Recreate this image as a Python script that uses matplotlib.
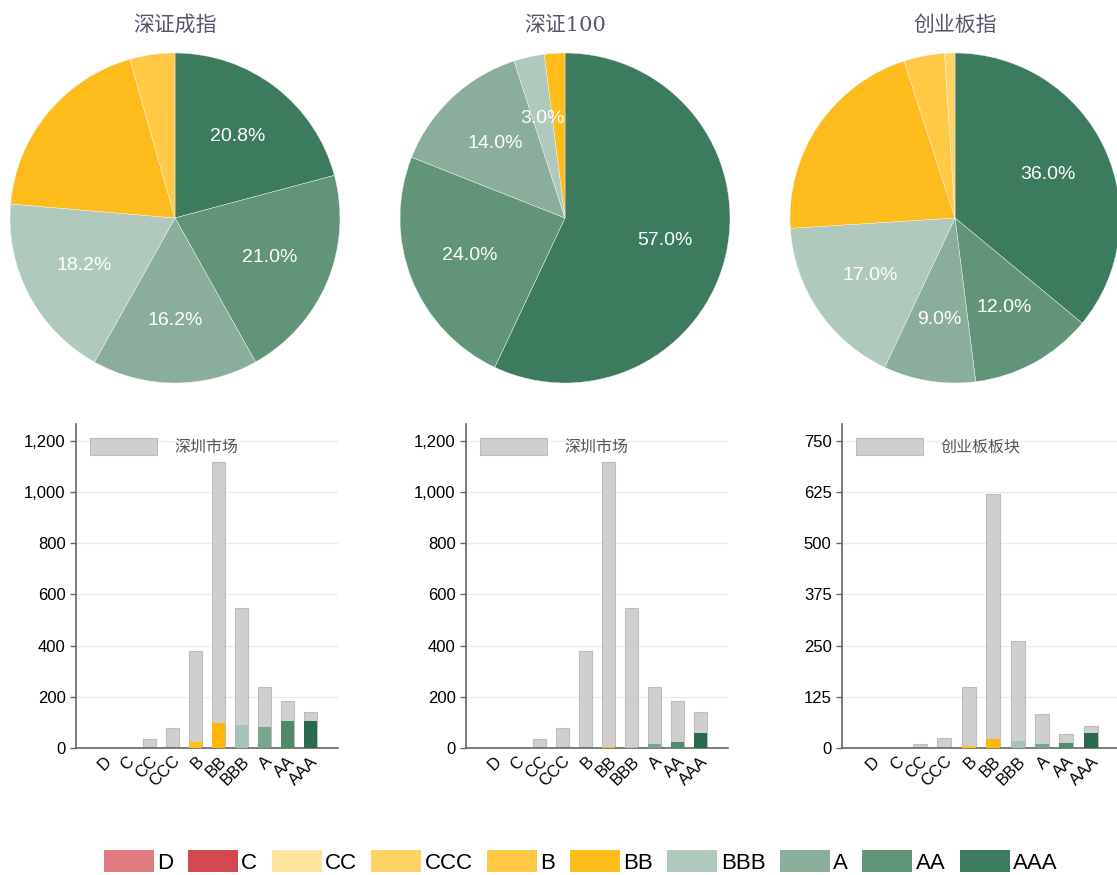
import numpy as np
import matplotlib
matplotlib.use('Agg')
import matplotlib.pyplot as plt
from matplotlib.patches import Patch
from matplotlib.ticker import FuncFormatter

plt.rcParams['font.family'] = ['Liberation Sans', 'Noto Sans CJK SC', 'DejaVu Sans']

# 评级类别
ratings = ['D', 'C', 'CC', 'CCC', 'B', 'BB', 'BBB', 'A', 'AA', 'AAA']

# 指数成分股评级分布（个数）
szcz = [0, 0, 0, 0, 22, 96, 91, 81, 105, 104]      # 深证成指
sz100 = [0, 0, 0, 0, 0, 2, 3, 14, 24, 57]          # 深证100
cybz = [0, 0, 0, 1, 4, 21, 17, 9, 12, 36]          # 创业板指

# 市场整体评级分布
sz_market = [0, 0, 37, 80, 380, 1117, 548, 237, 183, 140]   # 深圳市场
cyb_market = [0, 0, 10, 25, 150, 620, 262, 82, 33, 53]      # 创业板板块

titles = ['深证成指', '深证100', '创业板指']
market_names = ['深圳市场', '深圳市场', '创业板板块']

pie_colors = ['#e07b7f', '#d4494f', '#ffe4a0', '#ffd466', '#ffc845',
              '#fdbc1c', '#b0c9bd', '#8aae9b', '#629479', '#3d7b5e']
bar_colors = ['#e07b7f', '#d4494f', '#ffe08f', '#ffcf55', '#ffc21a',
              '#ffb800', '#a5c2b3', '#79a48e', '#4f8a6a', '#2a6a4c']
green = {'BBB', 'A', 'AA', 'AAA'}

W, H = 1117, 875
fig = plt.figure(figsize=(W / 100, H / 100), dpi=100)
fig.patch.set_facecolor('white')

# ---- 饼图 ----
centers = [175, 565, 955]
R = 165
for k, data in enumerate([szcz, sz100, cybz]):
    cx = centers[k]
    ax = fig.add_axes([(cx - R) / W, (H - 218 - R) / H, 2 * R / W, 2 * R / H])
    idx = [i for i in range(len(ratings) - 1, -1, -1) if data[i] > 0]
    vals = [data[i] for i in idx]
    cols = [pie_colors[i] for i in idx]
    wedges, _, autotexts = ax.pie(vals, colors=cols, startangle=90, counterclock=False,
                                  autopct='%1.1f%%', pctdistance=0.62,
                                  wedgeprops=dict(edgecolor='#f4f4f4', linewidth=0.3),
                                  textprops=dict(color='white', fontsize=14))
    for j, t in zip(idx, autotexts):
        if ratings[j] not in green:
            t.set_text('')
    ax.set_xlim(-1, 1)
    ax.set_ylim(-1, 1)
    ax.set_aspect('equal')
    fig.text(cx / W, 1 - 25 / H, titles[k], ha='center', va='center', fontsize=15,
             color='#55566a', family=['DejaVu Serif', 'Noto Sans CJK SC'])

# ---- 柱状图 ----
bar_boxes = [(76, 338), (466, 728), (842, 1120)]
markets = [sz_market, sz_market, cyb_market]
ylims = [1266, 1266, 791]
yticks = [np.arange(0, 1201, 200), np.arange(0, 1201, 200), np.arange(0, 751, 125)]
x = np.arange(len(ratings))
for k, data in enumerate([szcz, sz100, cybz]):
    l, r = bar_boxes[k]
    ax = fig.add_axes([l / W, (H - 748) / H, (r - l) / W, 324 / H])
    ax.bar(x, markets[k], width=0.58, color='#cfcfcf', edgecolor='#bdbdbd',
           linewidth=0.8, label=market_names[k], zorder=2)
    ax.bar(x, data, width=0.58, color=bar_colors, edgecolor='none', zorder=3)
    ax.set_xlim(-1.2, 10.2)
    ax.set_ylim(0, ylims[k])
    ax.set_yticks(yticks[k])
    ax.yaxis.set_major_formatter(FuncFormatter(lambda v, p: f'{int(v):,}'))
    ax.set_xticks(x)
    ax.set_xticklabels(ratings, rotation=45, ha='right', rotation_mode='anchor')
    ax.tick_params(axis='x', length=0, labelsize=12, pad=4)
    ax.tick_params(axis='y', length=4, labelsize=12, color='#666666', width=1)
    ax.grid(axis='y', color='#e6eef0', linewidth=1, zorder=0)
    ax.set_axisbelow(True)
    for s in ['top', 'right']:
        ax.spines[s].set_visible(False)
    for s in ['left', 'bottom']:
        ax.spines[s].set_color('#666666')
        ax.spines[s].set_linewidth(1.2)
    leg = ax.legend(loc='upper left', frameon=False, fontsize=11.5,
                    handlelength=4.2, handleheight=1.2, handletextpad=1.1,
                    bbox_to_anchor=(-0.02, 1.015), borderaxespad=0.8)
    for t in leg.get_texts():
        t.set_color('#555555')
        t.set_family(['Noto Sans CJK SC'])

# ---- 底部图例 ----
handles = [Patch(facecolor=c, edgecolor='none') for c in pie_colors]
fig.legend(handles, ratings, loc='center', bbox_to_anchor=(581 / W, 1 - 862 / H),
           ncol=10, frameon=False, fontsize=16, handlelength=2.25, handleheight=1.1,
           handletextpad=0.15, columnspacing=0.65)

fig.savefig('out.png', dpi=100, facecolor='white')
